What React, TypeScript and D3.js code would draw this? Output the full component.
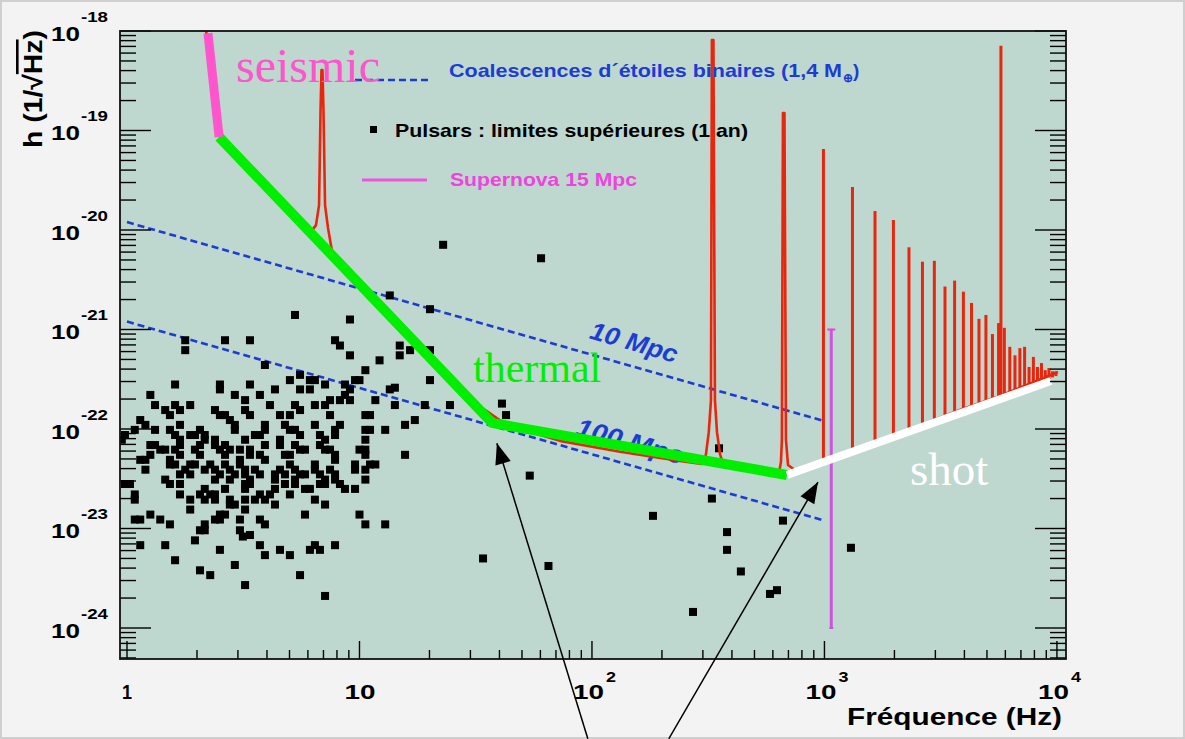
import React from "react";
import * as d3 from "d3";

// frame of the plot in the 1185x739 picture
const W = 1185;
const H = 739;
const margin = { left: 120, right: 1066, top: 31, bottom: 659 };

// axis ranges (log)
const freqRange = [0.933, 10940];
const strainRange = [4.88e-25, 1e-18];
const xMajor = [1, 10, 100, 1000, 10000];
const xTickLabels = ["1", "10", "2", "3", "4"];
const yExponents = [-18, -19, -20, -21, -22, -23, -24];

// binary coalescence lines [f, h]
const coal10Mpc = [[1, 1.2e-20], [1000, 1.2e-22]];
const coal100Mpc = [[1, 1.2e-21], [1000, 1.2e-23]];

// Virgo sensitivity curve (red)
const virgoCurve = [
  [2.19, 1.0e-18], [2.32, 3.2e-19], [2.44, 9.7e-20], [3.73, 3.2e-20], [6.12, 9.3e-21],
  [6.5, 1.12e-20], [6.7, 1.78e-20], [6.8, 1.6e-19], [6.865, 4.06e-19], [6.93, 4.06e-19],
  [7.0, 1.6e-19], [7.11, 1.78e-20], [7.32, 1.05e-20], [7.69, 5.4e-21], [14.9, 1.06e-21],
  [27.1, 2.5e-22], [31.5, 1.75e-22], [34.5, 1.57e-22], [40.2, 1.22e-22], [49.0, 1.0e-22],
  [72.8, 7.6e-23], [132, 5.9e-23], [239, 4.77e-23], [297, 4.45e-23], [309, 5.5e-23], [318, 9.3e-23],
  [325, 1.95e-22], [328, 8.1e-19], [333, 8.1e-19], [338, 1.95e-22], [345, 9.3e-23],
  [356, 5.5e-23], [370, 4.25e-23], [528, 3.78e-23], [637, 3.6e-23], [650, 4.66e-23],
  [656, 7.8e-23], [663, 1.5e-19], [673, 1.5e-19], [683, 7.8e-23], [697, 4.35e-23],
  [746, 3.87e-23], [1056, 5.0e-23], [2113, 9.1e-23], [3828, 1.55e-22], [5688, 2.15e-22],
  [10090, 3.74e-22],
];

// violin mode harmonics [f, peak h, base h]
const violinSpikes = [
  [990, 6.5e-20, 4.8e-23], [1320, 2.7e-20, 6.0e-23], [1650, 1.55e-20, 7.2e-23],
  [1980, 1.26e-20, 8.5e-23], [2310, 6.7e-21, 9.5e-23], [2640, 4.8e-21, 1.07e-22],
  [2970, 4.9e-21, 1.2e-22], [3300, 2.7e-21, 1.32e-22], [3630, 3.1e-21, 1.45e-22],
  [3960, 2.4e-21, 1.55e-22], [4290, 1.85e-21, 1.66e-22], [4620, 1.28e-21, 1.74e-22],
  [4950, 1.4e-21, 1.87e-22], [5280, 9.0e-22, 1.95e-22], [5610, 1.16e-21, 2.1e-22],
  [5743, 7.1e-19, 2.15e-22], [5940, 1.04e-21, 2.2e-22], [6270, 6.7e-22, 2.3e-22],
  [6600, 5.5e-22, 2.4e-22], [6930, 6.5e-22, 2.5e-22], [7260, 6.7e-22, 2.57e-22],
  [7590, 4.2e-22, 2.7e-22], [7920, 5.3e-22, 2.77e-22], [8250, 4.2e-22, 2.9e-22],
  [8580, 4.6e-22, 2.97e-22], [8910, 3.9e-22, 3.1e-22], [9240, 4.1e-22, 3.18e-22],
  [9570, 3.8e-22, 3.3e-22], [9900, 3.8e-22, 3.4e-22],
];

// noise sketch segments
const seismicLine = [[2.23, 9.5e-19], [2.49, 8.6e-20]];
const thermalLine = [[2.49, 8.6e-20], [37.2, 1.15e-22], [690, 3.45e-23]];
const shotLine = [[690, 3.45e-23], [9420, 3.03e-22]];

// supernova 15 Mpc error bar [f, hLow, hHigh]
const supernova = [1070, 1e-24, 1e-21];

// pulsars upper limits (1 year) [f, h]
const pulsars = [
  [5.28, 1.4e-21], [9.1, 1.26e-21], [20.1, 1.6e-21], [13.5, 2.2e-21], [1.78, 7.8e-22],
  [1.78, 6.2e-22], [2.64, 7.8e-22], [3.38, 7.8e-22], [7.85, 7.8e-22], [8.24, 6.9e-22],
  [9.1, 5.5e-22], [14.9, 6.9e-22], [16.5, 6.2e-22], [14.9, 5.5e-22], [12.2, 4.9e-22],
  [20.1, 6.2e-22], [3.92, 4.4e-22], [10.6, 3.9e-22], [10, 3.1e-22], [9.57, 3.1e-22],
  [20.1, 3.1e-22], [1.61, 2.8e-22], [2.51, 2.8e-22], [2.51, 2.5e-22], [3.38, 2.8e-22],
  [3.73, 2.2e-22], [4.33, 2.5e-22], [5.02, 3.1e-22], [5.55, 3.5e-22], [6.12, 3.1e-22],
  [6.12, 2.5e-22], [6.43, 3.1e-22], [7.11, 2.8e-22], [8.66, 2.8e-22], [9.1, 2.5e-22],
  [2.91, 2.2e-22], [3.22, 1.95e-22], [5.55, 2.5e-22], [7.47, 1.95e-22], [8.24, 1.95e-22],
  [8.66, 2.2e-22], [9.1, 1.95e-22], [11.7, 1.95e-22], [13.5, 2.5e-22], [14.2, 2.6e-22],
  [14.2, 1.74e-22], [19.1, 1.74e-22], [24.5, 1.74e-22], [1.26, 2.2e-22], [1.32, 1.74e-22],
  [1.46, 1.55e-22], [1.53, 1.38e-22], [1.61, 1.74e-22], [1.69, 1.55e-22], [1.87, 1.74e-22],
  [2.39, 1.55e-22], [2.51, 1.38e-22], [2.64, 1.38e-22], [3.22, 1.55e-22], [3.38, 1.38e-22],
  [4.12, 1.74e-22], [5.28, 1.74e-22], [5.55, 1.55e-22], [5.02, 1.38e-22], [6.43, 1.74e-22],
  [7.11, 1.74e-22], [7.47, 1.38e-22], [10.6, 1.38e-22], [11.1, 1.38e-22], [15.7, 1.1e-22],
  [17.3, 1.23e-22], [1.14, 1.23e-22], [1.2, 1.1e-22], [1.32, 9.8e-23], [1.53, 9.8e-23],
  [1.69, 1.1e-22], [1.61, 8.7e-23], [1.69, 7.8e-23], [1.87, 8.7e-23], [1.96, 8.7e-23],
  [2.06, 9.8e-23], [2.16, 8.7e-23], [2.16, 7.8e-23], [2.77, 1.23e-22], [2.91, 1.1e-22],
  [2.91, 9.8e-23], [3.22, 7.8e-23], [3.55, 8.7e-23], [3.73, 8.7e-23], [3.92, 9.8e-23],
  [3.92, 1.1e-22], [4.55, 1.38e-22], [4.78, 1.1e-22], [5.02, 9.8e-23], [5.28, 9.8e-23],
  [5.55, 8.7e-23], [4.55, 7.8e-23], [6.43, 1.1e-22], [6.76, 8.7e-23], [7.11, 7.8e-23],
  [6.76, 6.9e-23], [7.85, 9.8e-23], [8.24, 1.1e-22], [10.6, 9.8e-23], [12.9, 9.8e-23],
  [0.98, 8.7e-23], [0.95, 7.8e-23], [1.08, 9.8e-23], [1.26, 6.9e-23], [1.39, 6.2e-23],
  [1.61, 6.2e-23], [1.69, 5.5e-23], [1.69, 6.9e-23], [1.96, 6.2e-23], [2.06, 6.9e-23],
  [2.06, 5.5e-23], [2.39, 7.8e-23], [2.51, 6.2e-23], [2.64, 6.9e-23], [2.77, 6.2e-23],
  [2.64, 5.5e-23], [3.06, 6.2e-23], [3.06, 4.9e-23], [3.38, 5.5e-23], [3.73, 5.5e-23],
  [3.92, 6.9e-23], [3.92, 4.9e-23], [4.55, 6.9e-23], [4.78, 5.5e-23], [5.28, 6.9e-23],
  [5.55, 6.2e-23], [7.11, 6.2e-23], [7.85, 5.5e-23], [10.6, 5.5e-23], [10, 6.2e-23],
  [10.6, 7.8e-23], [15.7, 5.5e-23], [1.14, 4.9e-23], [1.26, 5.5e-23], [1.2, 3.9e-23],
  [1.46, 3.1e-23], [1.53, 4.9e-23], [1.61, 4.4e-23], [1.69, 3.5e-23], [1.78, 3.9e-23],
  [1.87, 4.4e-23], [1.87, 3.5e-23], [2.16, 3.9e-23], [2.28, 4.4e-23], [2.39, 3.9e-23],
  [2.51, 3.5e-23], [2.39, 3.1e-23], [2.64, 4.4e-23], [2.77, 3.9e-23], [2.91, 3.5e-23],
  [2.77, 3.1e-23], [3.06, 4.4e-23], [3.22, 3.9e-23], [3.38, 3.1e-23], [3.22, 2.8e-23],
  [3.55, 3.9e-23], [3.73, 3.5e-23], [4.33, 3.5e-23], [4.55, 3.9e-23], [4.78, 3.5e-23],
  [4.78, 2.8e-23], [5.02, 4.4e-23], [5.28, 3.9e-23], [5.55, 3.5e-23], [6.43, 4.4e-23],
  [6.76, 3.5e-23], [7.11, 3.1e-23], [7.47, 3.9e-23], [7.85, 3.5e-23], [9.57, 4.4e-23],
  [10.6, 3.9e-23], [11.1, 4.4e-23], [10.6, 3.1e-23], [9.57, 2.5e-23], [0.98, 2.8e-23],
  [1.08, 2.2e-23], [1.08, 1.95e-23], [1.53, 2.8e-23], [1.69, 2.8e-23], [1.69, 2.2e-23],
  [1.87, 1.95e-23], [1.87, 1.55e-23], [2.06, 2.2e-23], [2.16, 1.95e-23], [2.16, 2.5e-23],
  [2.39, 2.2e-23], [2.64, 2.5e-23], [2.77, 1.74e-23], [3.22, 1.95e-23], [3.22, 2.5e-23],
  [3.22, 1.55e-23], [3.55, 1.95e-23], [3.73, 2.2e-23], [3.92, 1.95e-23], [4.12, 2.2e-23],
  [4.33, 1.74e-23], [4.33, 2.5e-23], [5.02, 2.2e-23], [5.28, 2.8e-23], [5.83, 2.5e-23],
  [6.43, 1.95e-23], [6.76, 2.8e-23], [7.11, 1.74e-23], [8.24, 2.8e-23], [8.66, 2.5e-23],
  [1.08, 1.23e-23], [1.26, 1.38e-23], [1.39, 1.23e-23], [1.53, 1.1e-23], [2.06, 9.6e-24],
  [2.16, 1.1e-23], [2.39, 1.23e-23], [2.51, 1.38e-23], [3.06, 1.23e-23], [3.06, 9.6e-24],
  [3.15, 8.3e-24], [3.73, 1.23e-23], [3.92, 1.1e-23], [3.38, 8.6e-24], [5.83, 1.38e-23],
  [10, 1.38e-23], [10.6, 1.1e-23], [12.9, 1.1e-23], [1.96, 7.6e-24], [1.46, 6.8e-24],
  [1.14, 6.8e-24], [3.73, 6.8e-24], [3.92, 5.4e-24], [4.55, 6.1e-24], [5.02, 5.4e-24],
  [6.12, 6.1e-24], [6.43, 6.8e-24], [6.76, 6.1e-24], [7.85, 6.8e-24], [2.51, 6.1e-24],
  [1.61, 4.8e-24], [2.06, 3.8e-24], [2.28, 3.4e-24], [2.91, 4.3e-24], [3.22, 2.7e-24],
  [5.55, 3.4e-24], [7.11, 2.1e-24],
  // overlapping ones inside the clump
  [1.32, 6.9e-23], [1.46, 6.2e-23], [2.39, 6.9e-23], [3.38, 6.2e-23], [5.02, 5.5e-23],
  [5.83, 6.2e-23], [7.47, 6.2e-23], [7.85, 4.9e-23], [10.6, 6.2e-23], [1.2, 4.9e-23],
  [1.53, 4.4e-23], [1.96, 4.4e-23], [3.22, 3.5e-23], [3.38, 2.8e-23], [4.33, 3.1e-23],
  [5.83, 3.5e-23], [6.43, 3.9e-23], [7.85, 3.1e-23], [9.57, 3.9e-23], [11.7, 4.4e-23],
  [1.03, 2.8e-23], [2.28, 2.2e-23], [2.39, 1.95e-23], [2.77, 1.95e-23], [2.91, 1.74e-23],
  [5.28, 3.1e-23], [6.12, 2.5e-23], [7.11, 2.8e-23], [1.14, 1.23e-23], [2.16, 9.6e-24],
  [2.51, 1.23e-23], [2.64, 1.38e-23], [7.85, 8.7e-23], [11.1, 9.8e-23],
  // isolated ones further right
  [22.9, 7.1e-21], [60.4, 5.2e-21], [41, 1.8e-22], [42.7, 1.38e-22], [54, 3.4e-23],
  [34, 5.0e-24], [65, 4.2e-24], [183, 1.34e-23], [272, 1.45e-24], [328, 2.0e-23],
  [352, 6.4e-23], [381, 9.2e-24], [381, 6.1e-24], [437, 3.7e-24], [583, 2.2e-24],
  [625, 2.4e-24], [663, 1.2e-23], [1300, 6.4e-24],
];

// annotation arrows [tail, tip] in data units
const arrows = [
  [[96, 7.7e-26], [39, 7.2e-23]],
  [[214, 7.7e-26], [938, 2.93e-23]],
];

const boldFont = "'Liberation Sans', Arial, Helvetica, sans-serif";
const serifFont = "'Liberation Serif', 'Times New Roman', serif";

export default function App() {
  const x = d3.scaleLog().domain(freqRange).range([margin.left, margin.right]);
  const y = d3.scaleLog().domain(strainRange).range([margin.bottom, margin.top]);
  const line = d3.line<number[]>().x((d) => x(d[0])).y((d) => y(d[1]));

  const isMajor = (v: number) => Math.abs(Math.log10(v) - Math.round(Math.log10(v))) < 1e-6;
  const xMinor = x.ticks().filter((v) => !isMajor(v));
  const yAll = y.ticks();

  const coalAngle = (Math.atan2(y(coal10Mpc[1][1]) - y(coal10Mpc[0][1]), x(coal10Mpc[1][0]) - x(coal10Mpc[0][0])) * 180) / Math.PI;

  const arrowHead = (tail: number[], tip: number[]) => {
    const tx = x(tail[0]), ty = y(tail[1]), px = x(tip[0]), py = y(tip[1]);
    const len = Math.hypot(px - tx, py - ty);
    const ux = (px - tx) / len, uy = (py - ty) / len;
    const bx = px - ux * 21, by = py - uy * 21;
    return `${px},${py} ${bx - uy * 8},${by + ux * 8} ${bx + uy * 8},${by - ux * 8}`;
  };

  return (
    <div style={{ position: "absolute", left: 0, top: 0 }}>
      <svg width={W} height={H} style={{ display: "block" }}>
        <defs>
          <clipPath id="plotClip">
            <rect x={margin.left} y={margin.top} width={margin.right - margin.left} height={margin.bottom - margin.top} />
          </clipPath>
        </defs>
        <rect x={1} y={1} width={W - 2} height={H - 2} fill="#f3f3f3" stroke="#cfcfcf" strokeWidth={2} />
        <rect x={margin.left} y={margin.top} width={margin.right - margin.left} height={margin.bottom - margin.top} fill="#bed7cf" />

        <g clipPath="url(#plotClip)">
          {/* coalescences */}
          {[coal10Mpc, coal100Mpc].map((d, i) => (
            <path key={i} d={line(d) || ""} fill="none" stroke="#1c3cd2" strokeWidth={2.6} strokeDasharray="7 4" />
          ))}
          <text transform={`translate(${x(152)},${y(7.5e-22)}) rotate(${coalAngle})`} textAnchor="middle" dy={9}
            fontFamily={boldFont} fontWeight="bold" fontStyle="italic" fontSize={25} textLength={90} lengthAdjust="spacingAndGlyphs" fill="#1c3cd2">10 Mpc</text>
          <text transform={`translate(${x(146)},${y(7.6e-23)}) rotate(${coalAngle})`} textAnchor="middle" dy={9}
            fontFamily={boldFont} fontWeight="bold" fontStyle="italic" fontSize={25} textLength={110} lengthAdjust="spacingAndGlyphs" fill="#1c3cd2">100 Mpc</text>

          {/* pulsars */}
          {pulsars.map((d, i) => (
            <rect key={i} x={x(d[0]) - 4} y={y(d[1]) - 4} width={8} height={8} fill="#000" />
          ))}

          {/* virgo curve */}
          <path d={line(virgoCurve) || ""} fill="none" stroke="#e8260e" strokeWidth={2.6} strokeLinejoin="round" />
          {violinSpikes.map((d, i) => (
            <line key={i} x1={x(d[0])} x2={x(d[0])} y1={y(d[2])} y2={y(d[1])} stroke="#e8260e" strokeWidth={3} />
          ))}

          {/* supernova */}
          <line x1={x(supernova[0])} x2={x(supernova[0])} y1={y(supernova[1])} y2={y(supernova[2])} stroke="#cc55dd" strokeWidth={3} />
          <line x1={x(supernova[0]) - 4} x2={x(supernova[0]) + 4} y1={y(supernova[2])} y2={y(supernova[2])} stroke="#ee44cc" strokeWidth={2} />
          <line x1={x(supernova[0]) - 2} x2={x(supernova[0]) + 2} y1={y(supernova[1])} y2={y(supernova[1])} stroke="#cc55dd" strokeWidth={2} />

          {/* noise sketch */}
          <path d={line(thermalLine) || ""} fill="none" stroke="#00ee00" strokeWidth={10} strokeLinejoin="miter" />
          <path d={line(shotLine) || ""} fill="none" stroke="#ffffff" strokeWidth={8} />
          <path d={line(seismicLine) || ""} fill="none" stroke="#ff55cc" strokeWidth={9} />
        </g>

        {/* ticks */}
        <g stroke="#000" strokeWidth={1.4}>
          {yAll.map((v, i) => {
            const L = isMajor(v) ? 31 : 16;
            return (
              <g key={i}>
                <line x1={margin.left} x2={margin.left + L} y1={y(v)} y2={y(v)} />
                <line x1={margin.right} x2={margin.right - L} y1={y(v)} y2={y(v)} />
              </g>
            );
          })}
          {xMajor.map((v, i) => (
            <line key={i} x1={x(v)} x2={x(v)} y1={margin.bottom} y2={margin.bottom - 18} />
          ))}
          {xMinor.map((v, i) => (
            <line key={"m" + i} x1={x(v)} x2={x(v)} y1={margin.bottom} y2={margin.bottom - 9} />
          ))}
        </g>
        <rect x={margin.left} y={margin.top} width={margin.right - margin.left} height={margin.bottom - margin.top}
          fill="none" stroke="#111" strokeWidth={1.8} />

        {/* y tick labels */}
        <g fontFamily={boldFont} fontWeight="bold" fill="#000">
          {yExponents.map((e) => (
            <g key={e}>
              <text x={51} y={y(Math.pow(10, e)) + 10} fontSize={20} textLength={29} lengthAdjust="spacingAndGlyphs">10</text>
              <text x={81} y={y(Math.pow(10, e)) - 9} fontSize={14} textLength={27} lengthAdjust="spacingAndGlyphs">{String(e)}</text>
            </g>
          ))}
        </g>

        {/* x tick labels */}
        <g fontFamily={boldFont} fontWeight="bold" fill="#000">
          {xMajor.map((v, i) => {
            if (i === 0) return <text key={i} x={x(v)} y={699} fontSize={20} textAnchor="middle" textLength={10} lengthAdjust="spacingAndGlyphs">{xTickLabels[i]}</text>;
            if (i === 1) return <text key={i} x={x(v) - 15} y={699} fontSize={20} textLength={31} lengthAdjust="spacingAndGlyphs">{xTickLabels[i]}</text>;
            return (
              <g key={i}>
                <text x={x(v) - 19} y={699} fontSize={20} textLength={31} lengthAdjust="spacingAndGlyphs">10</text>
                <text x={x(v) + 14} y={682} fontSize={14} textLength={10} lengthAdjust="spacingAndGlyphs">{xTickLabels[i]}</text>
              </g>
            );
          })}
          <text x={847} y={725} fontSize={24} textLength={215} lengthAdjust="spacingAndGlyphs">Fréquence (Hz)</text>
        </g>

        {/* y title */}
        <text transform="translate(42,148) rotate(-90)" fontFamily={boldFont} fontWeight="bold" fontSize={26}
          textLength={118} lengthAdjust="spacingAndGlyphs" fill="#000">
          h (1/√<tspan style={{ textDecoration: "overline" }}>Hz</tspan>)
        </text>

        {/* legend */}
        <g fontFamily={boldFont} fontWeight="bold" fontSize={19}>
          <line x1={355} x2={430} y1={80} y2={80} stroke="#1c3cd2" strokeWidth={2.6} strokeDasharray="7 4" />
          <text x={449} y={77} fill="#1c3cd2" textLength={393} lengthAdjust="spacingAndGlyphs">Coalescences d´étoiles binaires (1,4 M</text>
          <text x={843} y={82} fill="#1c3cd2" fontSize={12}>⊕</text>
          <text x={853} y={77} fill="#1c3cd2">)</text>
          <rect x={370} y={126} width={7} height={7} fill="#000" />
          <text x={395} y={137} fill="#000" textLength={353} lengthAdjust="spacingAndGlyphs">Pulsars : limites supérieures (1 an)</text>
          <line x1={362} x2={427} y1={180} y2={180} stroke="#ee55dd" strokeWidth={3} />
          <text x={450} y={186} fill="#ee44dd" textLength={187} lengthAdjust="spacingAndGlyphs">Supernova 15 Mpc</text>
        </g>

        {/* noise labels */}
        <text x={236} y={82} fontFamily={serifFont} fontSize={48} fill="#ff55cc">seismic</text>
        <text x={473} y={382} fontFamily={serifFont} fontSize={42} fill="#00ee00">thermal</text>
        <text x={910} y={485} fontFamily={serifFont} fontSize={47} fill="#ffffff">shot</text>

        {/* arrows */}
        {arrows.map((a, i) => (
          <g key={i}>
            <line x1={x(a[0][0])} y1={y(a[0][1])} x2={x(a[1][0])} y2={y(a[1][1])} stroke="#000" strokeWidth={1.5} />
            <polygon points={arrowHead(a[0], a[1])} fill="#000" />
          </g>
        ))}
      </svg>
    </div>
  );
}
